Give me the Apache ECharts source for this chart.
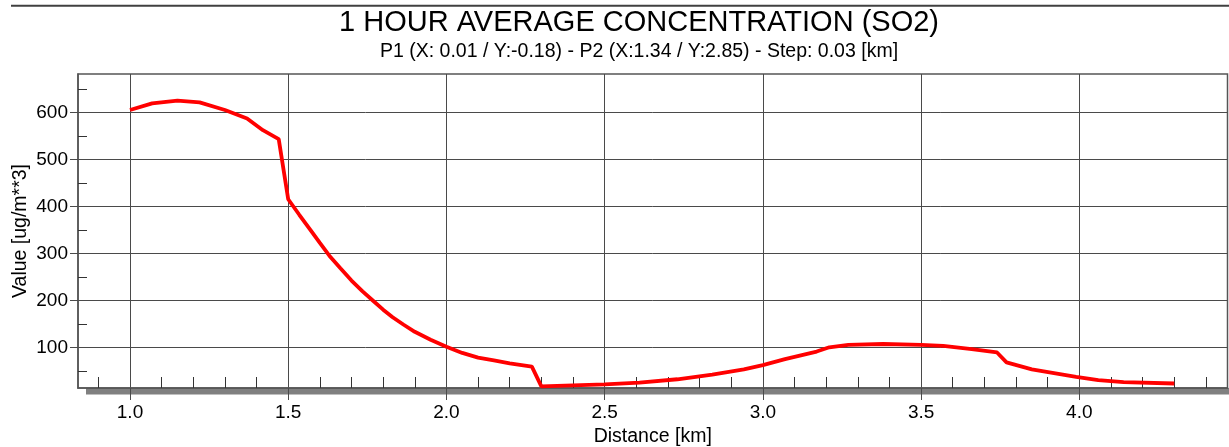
<!DOCTYPE html>
<html>
<head>
<meta charset="utf-8">
<title>1 HOUR AVERAGE CONCENTRATION (SO2)</title>
<script src="https://cdn.jsdelivr.net/npm/echarts@6/dist/echarts.min.js"></script>
<style>
  html, body { margin: 0; padding: 0; background: #fff; }
  #chart { width: 1229px; height: 447px; }
</style>
</head>
<body>
<div id="chart"></div>
<script>
// Profile of the 1-hour SO2 concentration along the section P1 -> P2
const distanceKm = [1.00, 1.07, 1.15, 1.22, 1.30, 1.37, 1.42, 1.47, 1.50, 1.535,
                    1.57, 1.60, 1.63, 1.665, 1.70, 1.735, 1.77, 1.80, 1.83, 1.865,
                    1.90, 1.95, 2.00, 2.05, 2.10, 2.15, 2.20, 2.27, 2.30, 2.40,
                    2.50, 2.61, 2.73, 2.84, 2.94, 3.00, 3.07, 3.17, 3.21, 3.27,
                    3.38, 3.50, 3.57, 3.66, 3.74, 3.77, 3.85, 3.99, 4.06, 4.14,
                    4.30];
const so2Values = [605, 619, 625, 621, 605, 587, 562, 543, 415, 382,
                   350, 322, 295, 268, 242, 219, 198, 180, 164, 148,
                   133, 116, 101, 88, 78, 72, 66, 59, 17, 19,
                   21, 25, 32, 42, 53, 62, 75, 91, 100, 105,
                   107, 105, 103, 96, 89, 68, 53, 37, 30, 26,
                   23];

const xMajorTicks = [1.0, 1.5, 2.0, 2.5, 3.0, 3.5, 4.0];
const xMinorTicks = [0.9, 1.1, 1.2, 1.3, 1.4, 1.6, 1.7, 1.8, 1.9, 2.1, 2.2, 2.3, 2.4,
                     2.6, 2.7, 2.8, 2.9, 3.1, 3.2, 3.3, 3.4, 3.6, 3.7, 3.8, 3.9,
                     4.1, 4.2, 4.3, 4.4];
const yMajorTicks = [100, 200, 300, 400, 500, 600];
const yMinorTicks = [50, 150, 250, 350, 450, 550, 650];

const titleText = '1 HOUR AVERAGE CONCENTRATION (SO2)';
const subtitleText = 'P1 (X: 0.01 / Y:-0.18) - P2 (X:1.34 / Y:2.85) - Step: 0.03 [km]';
const xName = 'Distance [km]';
const yName = 'Value [ug/m**3]';

const FONT = 'Arial, "Liberation Sans", sans-serif';
const GRID_COLOR = '#4a4a4a';
const X_MIN = 0.8357, X_MAX = 4.4683;
const Y_MIN = 13.4, Y_MAX = 681.5;

const chart = echarts.init(document.getElementById('chart'), null, { renderer: 'canvas' });

const seriesData = distanceKm.map((d, i) => [d, so2Values[i]]);

chart.setOption({
  animation: false,
  backgroundColor: '#ffffff',
  grid: {
    left: 78, top: 74, width: 1149.5, height: 314,
    containLabel: false, outerBoundsMode: 'none',
    show: true, borderColor: '#555555', borderWidth: 1.5, backgroundColor: 'transparent'
  },
  graphic: [
    { type: 'line', z: -1, shape: { x1: 11, y1: 5.8, x2: 1229, y2: 5.8 },
      style: { stroke: '#404040', lineWidth: 2 } },
    { type: 'rect', z: -1, shape: { x: 86, y: 388, width: 1143, height: 6.5 },
      style: { fill: '#808080' } },
    { type: 'text', x: 639, y: 22.7,
      style: { text: titleText, align: 'center', verticalAlign: 'middle',
               fontSize: 29, fontFamily: FONT, fill: '#000' } },
    { type: 'text', x: 639, y: 51.8,
      style: { text: subtitleText, align: 'center', verticalAlign: 'middle',
               fontSize: 19.5, fontFamily: FONT, fill: '#000' } }
  ],
  xAxis: [
    {
      type: 'value', min: X_MIN, max: X_MAX, position: 'bottom',
      name: xName, nameLocation: 'middle', nameGap: 39, nameMoveOverlap: false,
      nameTextStyle: { fontSize: 19.5, fontFamily: FONT, color: '#000' },
      axisLine: { show: true, onZero: false, lineStyle: { color: '#555555', width: 1.5 } },
      axisTick: { show: true, inside: false, length: 12, customValues: xMajorTicks,
                  lineStyle: { color: GRID_COLOR, width: 1 } },
      axisLabel: { show: true, customValues: xMajorTicks, margin: 15,
                   fontSize: 19, fontFamily: FONT, color: '#000',
                   formatter: v => v.toFixed(1) },
      splitLine: { show: true, lineStyle: { color: GRID_COLOR, width: 1 } }
    },
    {
      type: 'value', min: X_MIN, max: X_MAX, position: 'bottom',
      axisLine: { show: false },
      axisTick: { show: true, inside: true, length: 11, customValues: xMinorTicks,
                  lineStyle: { color: '#333333', width: 1 } },
      axisLabel: { show: false },
      splitLine: { show: false }
    }
  ],
  yAxis: [
    {
      type: 'value', min: Y_MIN, max: Y_MAX, position: 'left',
      name: yName, nameLocation: 'middle', nameGap: 47, nameRotate: 90, nameMoveOverlap: false,
      nameTextStyle: { fontSize: 19.5, fontFamily: FONT, color: '#000' },
      axisLine: { show: true, onZero: false, lineStyle: { color: '#555555', width: 1.5 } },
      axisTick: { show: true, inside: false, length: 8, customValues: yMajorTicks,
                  lineStyle: { color: GRID_COLOR, width: 1 } },
      axisLabel: { show: true, customValues: yMajorTicks, margin: 10,
                   fontSize: 19, fontFamily: FONT, color: '#000' },
      splitLine: { show: true, lineStyle: { color: GRID_COLOR, width: 1 } }
    },
    {
      type: 'value', min: Y_MIN, max: Y_MAX, position: 'left',
      axisLine: { show: false },
      axisTick: { show: true, inside: true, length: 9, customValues: yMinorTicks,
                  lineStyle: { color: '#333333', width: 1 } },
      axisLabel: { show: false },
      splitLine: { show: false }
    }
  ],
  series: [
    {
      type: 'line', xAxisIndex: 0, yAxisIndex: 0,
      data: seriesData, showSymbol: false, symbol: 'none', smooth: false,
      lineStyle: { color: '#ff0000', width: 3.8 },
      z: 5
    }
  ]
});
</script>
</body>
</html>
